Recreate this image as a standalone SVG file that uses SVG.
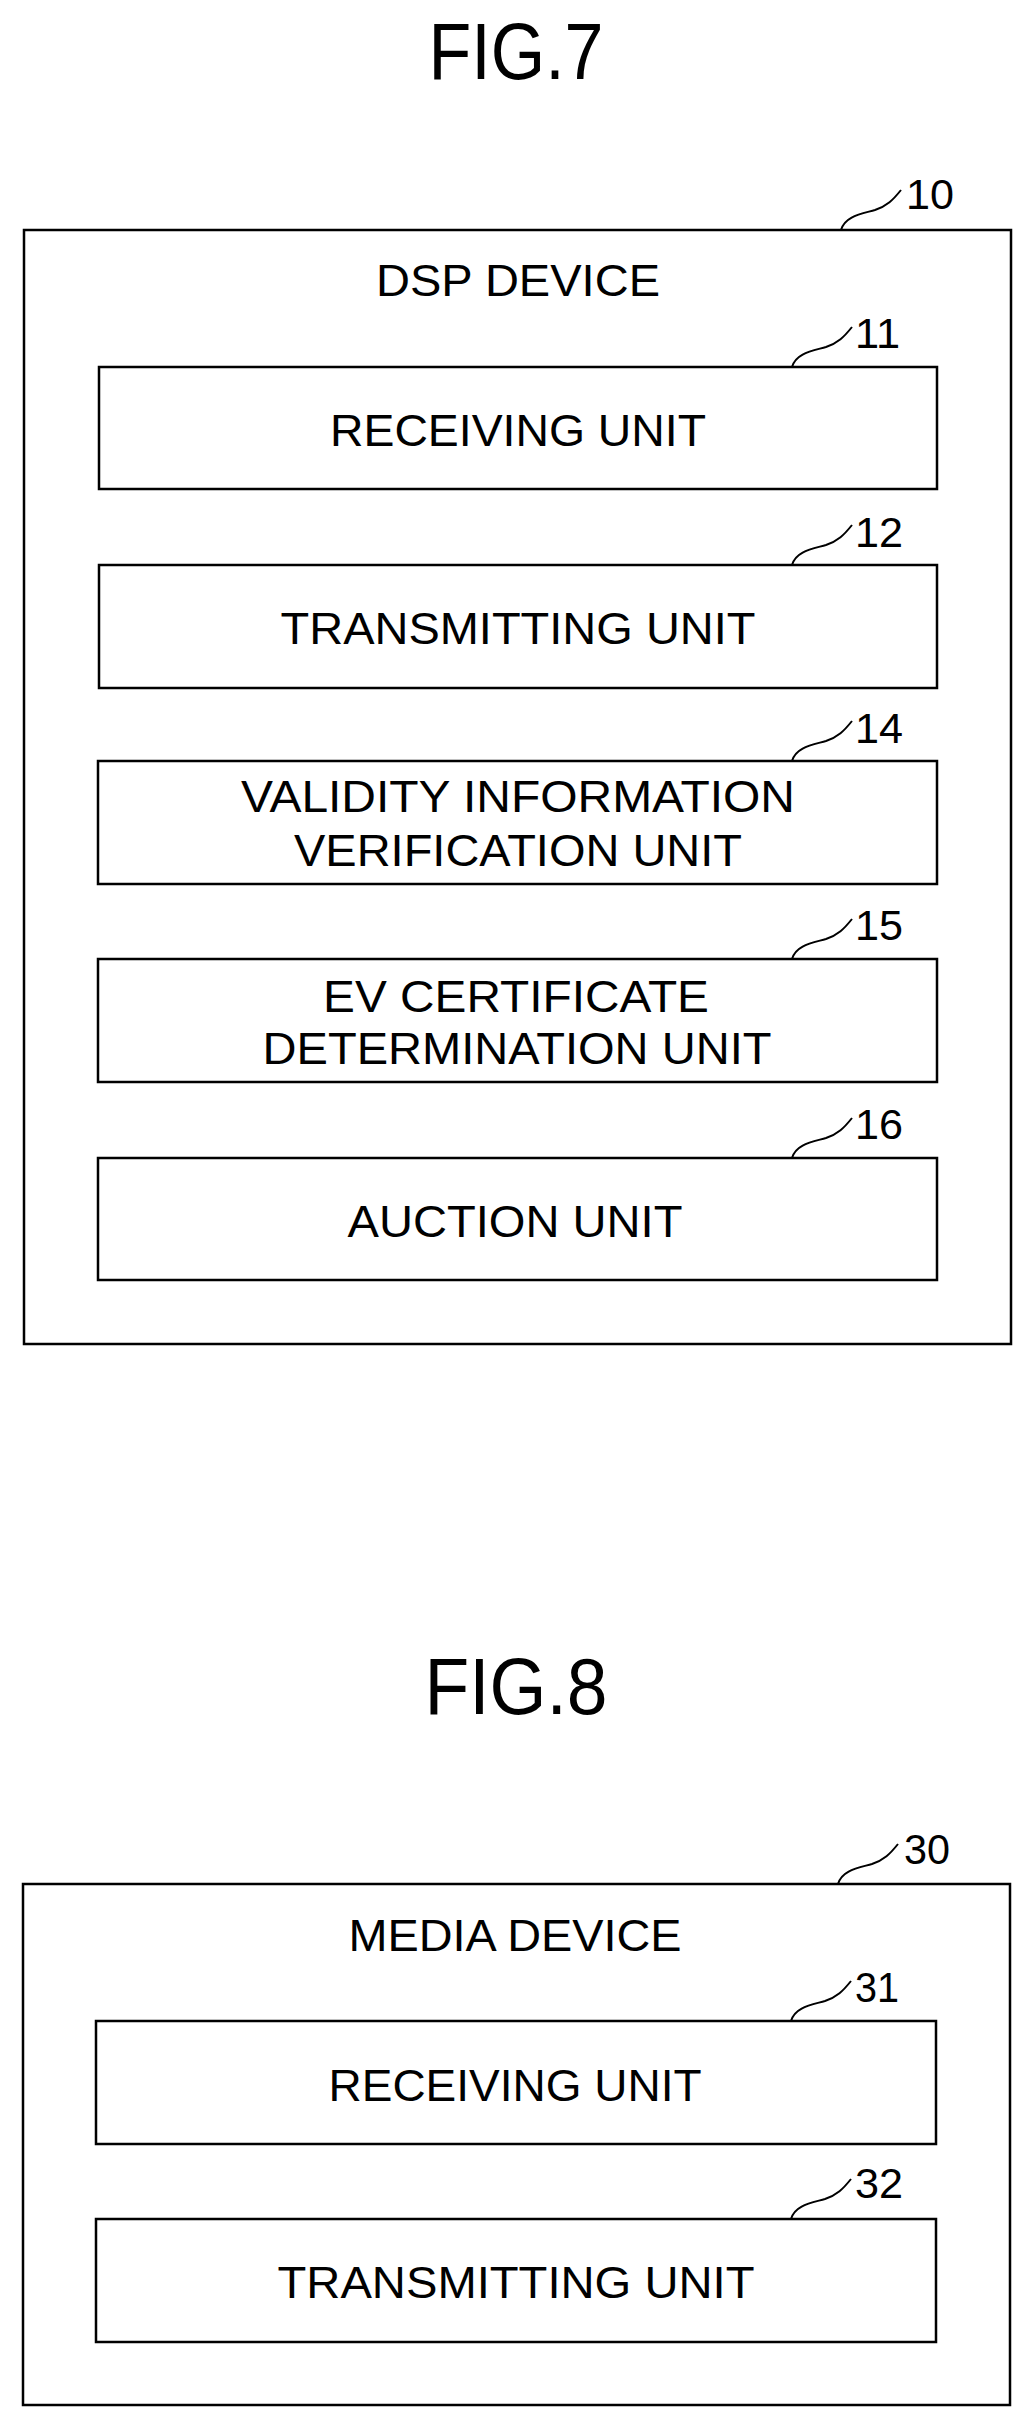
<svg xmlns="http://www.w3.org/2000/svg" width="1029" height="2425" viewBox="0 0 1029 2425">
<style>
text{font-family:"Liberation Sans",Arial,sans-serif;fill:#000;text-anchor:middle}
.fig{font-size:80px}
.t{font-size:44px}
.n{font-size:42px;text-anchor:start}
rect{fill:none;stroke:#000;stroke-width:2.5}
.ld{fill:none;stroke:#000;stroke-width:2}
</style>
<text class="fig" x="516" y="79" textLength="175" lengthAdjust="spacingAndGlyphs">FIG.7</text>
<g id="n10">
<rect x="24" y="230" width="987" height="1114"/>
<text class="t" x="518" y="296" textLength="284" lengthAdjust="spacingAndGlyphs">DSP DEVICE</text>
<text class="n" x="906" y="209" textLength="48" lengthAdjust="spacingAndGlyphs">10</text>
</g>
<g id="n11">
<rect x="99" y="367" width="838" height="122"/>
<text class="t" x="518" y="446" textLength="376" lengthAdjust="spacingAndGlyphs">RECEIVING UNIT</text>
<text class="n" x="855" y="348" textLength="45" lengthAdjust="spacingAndGlyphs">11</text>
</g>
<g id="n12">
<rect x="99" y="565" width="838" height="123"/>
<text class="t" x="518" y="644" textLength="475" lengthAdjust="spacingAndGlyphs">TRANSMITTING UNIT</text>
<text class="n" x="855" y="547" textLength="48" lengthAdjust="spacingAndGlyphs">12</text>
</g>
<g id="n14">
<rect x="98" y="761" width="839" height="123"/>
<text class="t" x="518" y="812" textLength="554" lengthAdjust="spacingAndGlyphs">VALIDITY INFORMATION</text>
<text class="t" x="518" y="866" textLength="448" lengthAdjust="spacingAndGlyphs">VERIFICATION UNIT</text>
<text class="n" x="855" y="743" textLength="48" lengthAdjust="spacingAndGlyphs">14</text>
</g>
<g id="n15">
<rect x="98" y="959" width="839" height="123"/>
<text class="t" x="516" y="1012" textLength="386" lengthAdjust="spacingAndGlyphs">EV CERTIFICATE</text>
<text class="t" x="517" y="1064" textLength="509" lengthAdjust="spacingAndGlyphs">DETERMINATION UNIT</text>
<text class="n" x="855" y="940" textLength="48" lengthAdjust="spacingAndGlyphs">15</text>
</g>
<g id="n16">
<rect x="98" y="1158" width="839" height="122"/>
<text class="t" x="515" y="1237" textLength="335" lengthAdjust="spacingAndGlyphs">AUCTION UNIT</text>
<text class="n" x="855" y="1139" textLength="48" lengthAdjust="spacingAndGlyphs">16</text>
</g>
<text class="fig" x="516" y="1714" textLength="183" lengthAdjust="spacingAndGlyphs">FIG.8</text>
<g id="n30">
<rect x="23" y="1884" width="987" height="521"/>
<text class="t" x="515" y="1951" textLength="333" lengthAdjust="spacingAndGlyphs">MEDIA DEVICE</text>
<text class="n" x="904" y="1864" textLength="46" lengthAdjust="spacingAndGlyphs">30</text>
</g>
<g id="n31">
<rect x="96" y="2021" width="840" height="123"/>
<text class="t" x="515" y="2101" textLength="373" lengthAdjust="spacingAndGlyphs">RECEIVING UNIT</text>
<text class="n" x="855" y="2002" textLength="44" lengthAdjust="spacingAndGlyphs">31</text>
</g>
<g id="n32">
<rect x="96" y="2219" width="840" height="123"/>
<text class="t" x="516" y="2298" textLength="477" lengthAdjust="spacingAndGlyphs">TRANSMITTING UNIT</text>
<text class="n" x="855" y="2198" textLength="48" lengthAdjust="spacingAndGlyphs">32</text>
</g>
<g id="connectors">
<path class="ld" d="M841,230 c4,-14 20,-16 34,-20 c12,-4 18,-10 26,-20"/>
<path class="ld" d="M792,367 c4,-14 20,-16 34,-20 c12,-4 18,-10 26,-20"/>
<path class="ld" d="M792,565 c4,-14 20,-16 34,-20 c12,-4 18,-10 26,-20"/>
<path class="ld" d="M792,761 c4,-14 20,-16 34,-20 c12,-4 18,-10 26,-20"/>
<path class="ld" d="M792,959 c4,-14 20,-16 34,-20 c12,-4 18,-10 26,-20"/>
<path class="ld" d="M792,1158 c4,-14 20,-16 34,-20 c12,-4 18,-10 26,-20"/>
<path class="ld" d="M838,1884 c4,-14 20,-16 34,-20 c12,-4 18,-10 26,-20"/>
<path class="ld" d="M791,2021 c4,-14 20,-16 34,-20 c12,-4 18,-10 26,-20"/>
<path class="ld" d="M791,2219 c4,-14 20,-16 34,-20 c12,-4 18,-10 26,-20"/>
</g>
</svg>
